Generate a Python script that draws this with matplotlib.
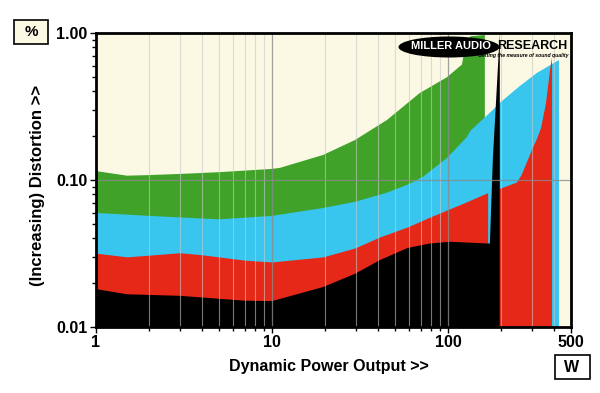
"""
Miller Audio Research style dynamic power output chart:
distortion vs. power for four load impedances, stacked log-log areas.
"""

import matplotlib.pyplot as plt
from matplotlib.patches import Ellipse, Rectangle
from matplotlib.ticker import FixedLocator, NullFormatter

plt.rcParams["font.family"] = ["Liberation Sans", "DejaVu Sans"]

# green trace (W, %)
GREEN_W = [1, 1.5, 2, 3, 5, 10, 11.1, 19.5, 29.6, 45, 69, 98.6, 120, 125, 134, 162]
GREEN = [0.115, 0.107, 0.108, 0.110, 0.113, 0.119, 0.121, 0.148, 0.187,
         0.256, 0.39, 0.50, 0.61, 0.80, 0.95, 0.97]

# cyan trace
CYAN_W = [1, 2, 5, 10, 19.5, 29.6, 45, 59, 72, 98.6, 128, 134, 180, 197, 256, 320, 427]
CYAN = [0.0597, 0.057, 0.054, 0.057, 0.0645, 0.071, 0.082, 0.093, 0.105,
        0.141, 0.196, 0.216, 0.30, 0.335, 0.436, 0.535, 0.655]

# red trace, two pieces either side of the black spike
RED_W = [1, 1.5, 3, 4, 7, 10, 19.5, 29.6, 41, 59, 79, 117, 168]
RED = [0.0318, 0.030, 0.032, 0.031, 0.0285, 0.0277, 0.030, 0.0345, 0.041,
       0.048, 0.056, 0.068, 0.082]
RED2_W = [197, 246, 262, 274, 300, 320, 338, 360, 380, 390]
RED2 = [0.087, 0.096, 0.108, 0.123, 0.16, 0.19, 0.226, 0.33, 0.56, 0.68]

# black trace
BLACK_W = [1, 1.5, 3, 7, 10, 19.5, 29.6, 41, 59, 79, 103, 166, 173, 180, 197]
BLACK = [0.0181, 0.0167, 0.0163, 0.0151, 0.015, 0.0187, 0.023, 0.0285,
         0.0345, 0.037, 0.038, 0.037, 0.037, 0.141, 1.0]

X_TICKS = [1, 10, 100, 500]
X_TICKLABELS = ["1", "10", "100", "500"]
Y_TICKS = [0.01, 0.1, 1.0]
Y_TICKLABELS = ["0.01", "0.10", "1.00"]

BG = "#FBF8E4"
FLOOR = 0.001


def main():
    fig = plt.figure(figsize=(6.0, 3.93), dpi=100)
    ax = fig.add_axes([96 / 600, 1 - 327 / 393, 475 / 600, 294 / 393])
    ax.set_facecolor(BG)

    ax.fill_between(GREEN_W, FLOOR, GREEN, color="#41A22A", lw=0, zorder=2)
    ax.fill_between(CYAN_W, FLOOR, CYAN, color="#38C6EF", lw=0, zorder=3)
    ax.fill_between(RED_W, FLOOR, RED, color="#E52817", lw=0, zorder=4)
    ax.fill_between(RED2_W, FLOOR, RED2, color="#E52817", lw=0, zorder=4)
    ax.fill_between(BLACK_W, FLOOR, BLACK, color="black", lw=0, zorder=5)

    ax.set_xscale("log")
    ax.set_yscale("log")
    ax.set_xlim(1, 500)
    ax.set_ylim(0.01, 1.0)

    # grid on top of the fills
    minors_x = [m * d for d in (1, 10, 100) for m in range(2, 10) if m * d < 500]
    for v in minors_x:
        ax.axvline(v, color="#C8C8C8", lw=0.8, alpha=0.6, zorder=6)
    for v in (10, 100):
        ax.axvline(v, color="#8A8A8A", lw=0.9, alpha=0.8, zorder=6)
    ax.axhline(0.1, color="#8A8A8A", lw=0.9, alpha=0.8, zorder=6)

    ax.set_xticks(X_TICKS)
    ax.set_xticklabels(X_TICKLABELS)
    ax.set_yticks(Y_TICKS)
    ax.set_yticklabels(Y_TICKLABELS)
    ax.xaxis.set_minor_locator(FixedLocator(minors_x))
    ax.xaxis.set_minor_formatter(NullFormatter())
    ax.yaxis.set_minor_locator(FixedLocator(
        [m * d for d in (0.01, 0.1) for m in range(2, 10)]))
    ax.yaxis.set_minor_formatter(NullFormatter())
    ax.tick_params(which="major", direction="out", length=4, width=1,
                   labelsize=11.5, pad=2)
    ax.tick_params(which="minor", direction="out", length=3, width=1)
    for lbl in ax.get_xticklabels() + ax.get_yticklabels():
        lbl.set_fontweight("bold")

    for s in ax.spines.values():
        s.set_linewidth(2)
        s.set_zorder(10)

    ax.set_xlabel("Dynamic Power Output >>", fontsize=11.5, fontweight="bold")
    ax.xaxis.set_label_coords(0.49, (327 - 367) / 294, transform=ax.transAxes)
    ax.xaxis.label.set_va("center")
    ax.set_ylabel("(Increasing) Distortion >>", fontsize=12, fontweight="bold")
    ax.yaxis.set_label_coords((38 - 96) / 475, (327 - 185) / 294)
    ax.yaxis.label.set_va("center")

    # unit boxes
    fig.patches.append(Rectangle((14 / 600, 1 - 44 / 393), 34 / 600, 24 / 393,
                                 transform=fig.transFigure, facecolor=BG,
                                 edgecolor="black", lw=1.2))
    fig.text(31 / 600, 1 - 32 / 393, "%", ha="center", va="center",
             fontsize=11, fontweight="bold")
    fig.patches.append(Rectangle((555 / 600, 1 - 379 / 393), 35 / 600, 24 / 393,
                                 transform=fig.transFigure, facecolor="white",
                                 edgecolor="black", lw=1.2))
    fig.text(572 / 600, 1 - 367 / 393, "W", ha="center", va="center",
             fontsize=11.5, fontweight="bold")

    # logo
    fig.patches.append(Ellipse((449 / 600, 1 - 47 / 393), 101 / 600, 21 / 393,
                               transform=fig.transFigure, facecolor="black",
                               edgecolor="none", zorder=20))
    fig.text(451 / 600, 1 - 46 / 393, "MILLER AUDIO", ha="center", va="center",
             fontsize=8.0, fontweight="bold", color="white", zorder=21)
    fig.text(497 / 600, 1 - 46 / 393, "RESEARCH", ha="left", va="center",
             fontsize=9.0, fontweight="bold", color="black", zorder=21)
    fig.text(568 / 600, 1 - 55 / 393, "Getting the measure of sound quality",
             ha="right", va="center", fontsize=3.7, fontweight="bold",
             style="italic", color="black", zorder=21)

    fig.savefig("out.png", dpi=100, facecolor="white")


if __name__ == "__main__":
    main()
